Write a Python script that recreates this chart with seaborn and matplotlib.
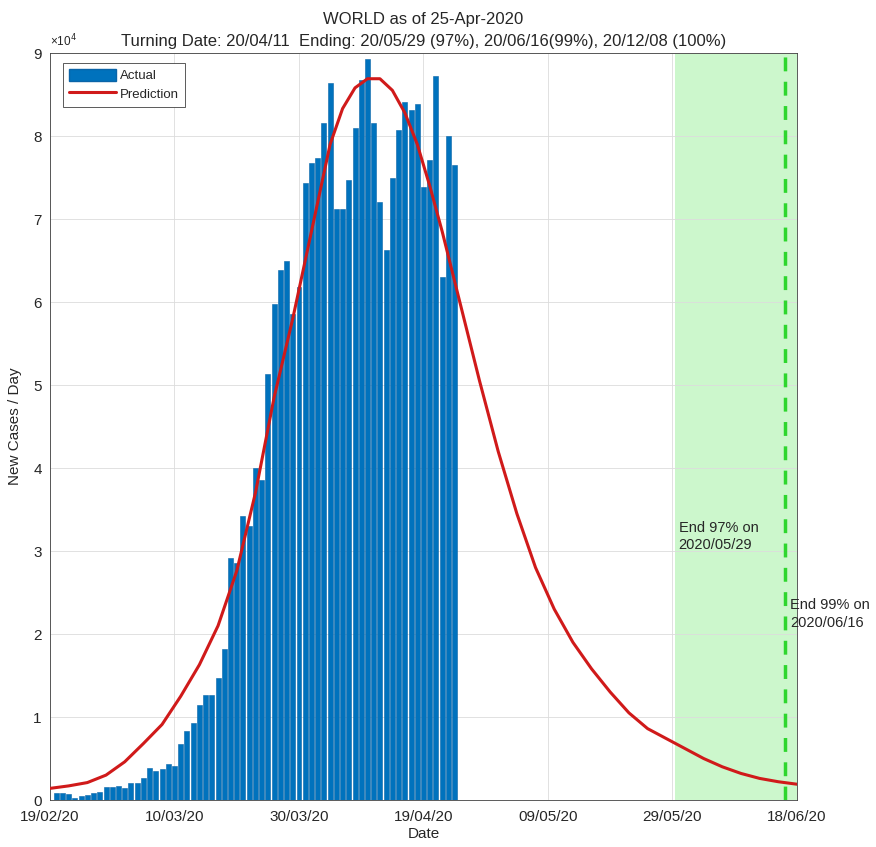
import numpy as np
import pandas as pd
import matplotlib
matplotlib.use("Agg")
import matplotlib.pyplot as plt
import matplotlib.dates as mdates
from matplotlib.patches import Patch
import seaborn as sns

# ---------------- data ----------------
first_bar_date = "2020-02-20"
actual_cases = [0.08, 0.08, 0.075, 0.03, 0.045, 0.055, 0.085, 0.10, 0.155, 0.155,
                0.17, 0.15, 0.20, 0.20, 0.26, 0.38, 0.35, 0.37, 0.43, 0.41,
                0.68, 0.83, 0.93, 1.15, 1.27, 1.27, 1.47, 1.82, 2.92, 2.85,
                3.42, 3.30, 4.00, 3.85, 5.13, 5.98, 6.38, 6.50, 5.85, 6.18,
                7.43, 7.67, 7.73, 8.16, 8.64, 7.12, 7.12, 7.47, 8.10, 8.67,
                8.93, 8.16, 7.20, 6.63, 7.50, 8.07, 8.41, 8.31, 8.39, 7.38,
                7.71, 8.72, 6.30, 8.00, 7.65]  # x 1e4

pred_start = "2020-02-19"
pred_day = [0, 3, 6, 9, 12, 15, 18, 21, 24, 27, 30, 33, 36, 39, 42, 45, 47, 49, 51,
            53, 55, 57, 59, 61, 63, 66, 69, 72, 75, 78, 81, 84, 87, 90, 93, 96, 99,
            102, 105, 108, 111, 114, 117, 120]
pred_value = [0.14, 0.17, 0.21, 0.30, 0.46, 0.68, 0.91, 1.25, 1.63, 2.10, 2.76, 3.70,
              4.85, 5.80, 6.85, 7.90, 8.33, 8.58, 8.69, 8.69, 8.55, 8.28, 7.90, 7.40,
              6.85, 5.95, 5.05, 4.20, 3.45, 2.80, 2.30, 1.90, 1.58, 1.30, 1.05, 0.86,
              0.74, 0.62, 0.50, 0.40, 0.32, 0.26, 0.22, 0.19]  # x 1e4

tick_labels = ["19/02/20", "10/03/20", "30/03/20", "19/04/20", "09/05/20", "29/05/20", "18/06/20"]
ytick_labels = ["0", "1", "2", "3", "4", "5", "6", "7", "8", "9"]
end97_date = "2020-05-29"
end99_date = "2020-06-16"
x_end_date = "2020-06-18"

title_text = ("WORLD as of 25-Apr-2020\n"
              "Turning Date: 20/04/11  Ending: 20/05/29 (97%), 20/06/16(99%), 20/12/08 (100%)")
note97 = "End 97% on\n2020/05/29"
note99 = "End 99% on\n2020/06/16"

# ---------------- derived ----------------
bar_dates = pd.date_range(first_bar_date, periods=len(actual_cases), freq="D")
bar_vals = np.array(actual_cases) * 1e4
pred_dates = pd.Timestamp(pred_start) + pd.to_timedelta(pred_day, unit="D")
pred_df = pd.DataFrame({"date": pred_dates, "cases": np.array(pred_value) * 1e4})
tick_dates = pd.to_datetime(tick_labels, format="%d/%m/%y")

# ---------------- style ----------------
sns.set_style("white")
plt.rcParams["font.family"] = ["Liberation Sans", "DejaVu Sans"]
txt = "#262626"

fig = plt.figure(figsize=(8.76, 8.47), dpi=100)
ax = fig.add_axes([50 / 876, 1 - 800 / 847, (797 - 50) / 876, (800 - 53) / 847])

x0 = mdates.date2num(pd.Timestamp(pred_start))
x1 = mdates.date2num(pd.Timestamp(x_end_date))

ax.axvspan(mdates.date2num(pd.Timestamp(end97_date)) + 0.4, x1, color="#ccf7cc", zorder=0, lw=0)

bars = ax.bar(mdates.date2num(bar_dates), bar_vals, width=0.8, color="#0072BD",
              edgecolor="#0a64a8", linewidth=0.4, zorder=2)
sns.lineplot(data=pred_df, x="date", y="cases", ax=ax, color="#d01a1a", lw=2.2, zorder=3)
pred_line = ax.lines[-1]
pred_line.set_solid_joinstyle("round")

ax.axvline(mdates.date2num(pd.Timestamp(end99_date)), color="#2ed62e", ls=(0, (4, 3)), lw=2.5, zorder=2)

ax.set_xlim(x0, x1)
ax.set_ylim(0, 9e4)
ax.set_xticks(mdates.date2num(tick_dates))
ax.set_xticklabels(tick_labels)
ax.set_yticks(np.arange(len(ytick_labels)) * 1e4)
ax.set_yticklabels(ytick_labels)

ax.grid(True, color="#dcdcdc", lw=0.6)
ax.set_axisbelow(True)
ax.tick_params(direction="in", length=5, width=0.6, colors="#404040", labelcolor=txt, labelsize=11)
ax.tick_params(axis="x", pad=7)
ax.tick_params(axis="y", pad=6)
for s in ax.spines.values():
    s.set_color("#404040")
    s.set_linewidth(0.6)

ax.set_xlabel("Date", fontsize=11, color=txt, labelpad=2)
ax.set_ylabel("New Cases / Day", fontsize=11, color=txt, labelpad=8)
ax.set_title(title_text, fontsize=12, color=txt, linespacing=1.6, pad=5)
ax.text(0.0, 1.005, "×10$^{4}$", transform=ax.transAxes, fontsize=8.5, color=txt,
        ha="left", va="bottom")

ax.text(mdates.date2num(pd.Timestamp(end97_date)) + 1.0, 3.36e4, note97, fontsize=10.5,
        color=txt, va="top", ha="left", linespacing=1.3)
ax.text(mdates.date2num(pd.Timestamp(end99_date)) + 0.9, 2.43e4, note99, fontsize=10.5,
        color=txt, va="top", ha="left", linespacing=1.3, clip_on=False)

leg = ax.legend(handles=[Patch(facecolor="#0072BD", edgecolor="#0a64a8"), pred_line],
                labels=["Actual", "Prediction"], loc="upper left",
                bbox_to_anchor=(0.017, 0.987), borderaxespad=0, fontsize=9.5,
                fancybox=False, framealpha=1, edgecolor="#404040",
                handlelength=3.6, handleheight=1.1, borderpad=0.45, labelspacing=0.35,
                handletextpad=0.3)
leg.get_frame().set_linewidth(0.6)

fig.savefig("out.png", dpi=100)
